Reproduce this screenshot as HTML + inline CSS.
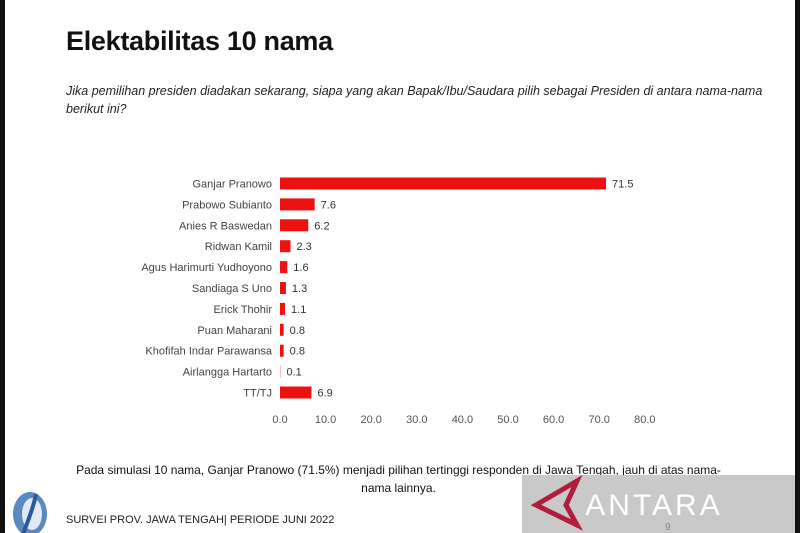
<!DOCTYPE html>
<html><head><meta charset="utf-8">
<style>
html,body{margin:0;padding:0;}
body{width:800px;height:533px;position:relative;overflow:hidden;background:#fff;font-family:"Liberation Sans",sans-serif;}
.abs{position:absolute;}
#title{left:66px;top:26px;font-size:27px;font-weight:bold;color:#111;letter-spacing:-0.3px;}
#question{left:66px;top:82px;font-size:12.5px;font-style:italic;color:#222;line-height:18px;width:720px;}
#note{left:72px;top:461px;width:653px;text-align:center;font-size:12px;color:#111;line-height:18px;}
#footer{left:66px;top:514px;font-size:11px;color:#222;}
</style></head>
<body>
<div class="abs" style="left:0;top:0;width:5px;height:533px;background:#111"></div>
<div class="abs" style="left:795px;top:0;width:5px;height:533px;background:#111"></div>
<div id="title" class="abs">Elektabilitas 10 nama</div>
<div id="question" class="abs">Jika pemilihan presiden diadakan sekarang, siapa yang akan Bapak/Ibu/Saudara pilih sebagai Presiden di antara nama-nama berikut ini?</div>
<svg id="chart" class="abs" style="left:0;top:0" width="800" height="440"></svg>
<div id="note" class="abs">Pada simulasi 10 nama, Ganjar Pranowo (71.5%) menjadi pilihan tertinggi responden di Jawa Tengah, jauh di atas nama-nama lainnya.</div>
<svg class="abs" style="left:6px;top:486px" width="44" height="47">
<ellipse cx="24" cy="28" rx="17" ry="22" fill="#5a88c0"/>
<ellipse cx="26" cy="28" rx="10" ry="16" fill="#dfeaf6"/>
<path d="M17 48 Q28 20 30 8" stroke="#2a5a9a" stroke-width="4" fill="none"/>
</svg>
<div id="footer" class="abs">SURVEI PROV. JAWA TENGAH| PERIODE JUNI 2022</div>
<div class="abs" style="left:522px;top:475px;width:273px;height:58px;background:#c9c9c9">
<svg width="273" height="58" style="position:absolute;left:0;top:0">
<path d="M55 6 L14 30 L55 50 L44 30 Z" fill="none" stroke="#b01e3c" stroke-width="5"/>
<text x="132" y="40" font-family="Liberation Sans,sans-serif" font-size="30" fill="#fff" text-anchor="middle" letter-spacing="3">ANTARA</text>
<text x="143" y="55" font-family="Liberation Sans,sans-serif" font-size="10" fill="#888">9</text>
</svg>
</div>
<script>
const categories=["Ganjar Pranowo","Prabowo Subianto","Anies R Baswedan","Ridwan Kamil","Agus Harimurti Yudhoyono","Sandiaga S Uno","Erick Thohir","Puan Maharani","Khofifah Indar Parawansa","Airlangga Hartarto","TT/TJ"];
const values=[71.5,7.6,6.2,2.3,1.6,1.3,1.1,0.8,0.8,0.1,6.9];
const ticks=[0,10,20,30,40,50,60,70,80];
const NS="http://www.w3.org/2000/svg";
const svg=document.getElementById('chart');
const x0=280,pxPer=4.56,y0=183.5,step=20.9,bh=12;
const xs=v=>x0+v*pxPer;
const ys=i=>y0+i*step;
function mk(t,a){const e=document.createElementNS(NS,t);for(const k in a)e.setAttribute(k,a[k]);svg.appendChild(e);return e;}
categories.forEach((c,i)=>{
  const l=mk('text',{x:272,y:ys(i)+4,'text-anchor':'end','font-size':11,fill:'#444','font-family':'Liberation Sans,sans-serif'});
  l.textContent=c;
  
  
  const b=mk('rect',{x:x0,y:ys(i)-bh/2,width:Math.max(values[i]*pxPer,0.8),height:bh,fill:values[i]<0.5?'#f4b0b0':'#ee1111'});
  
  
  const v=mk('text',{x:xs(values[i])+6,y:ys(i)+4,'font-size':11,fill:'#333','font-family':'Liberation Sans,sans-serif'});
  v.textContent=values[i].toFixed(1);
  
  
});
ticks.forEach(t=>{
  const e=mk('text',{x:xs(t),y:423,'text-anchor':'middle','font-size':11,fill:'#555','font-family':'Liberation Sans,sans-serif'});
  e.textContent=t.toFixed(1);
  
  
});
</script>
</body></html>
